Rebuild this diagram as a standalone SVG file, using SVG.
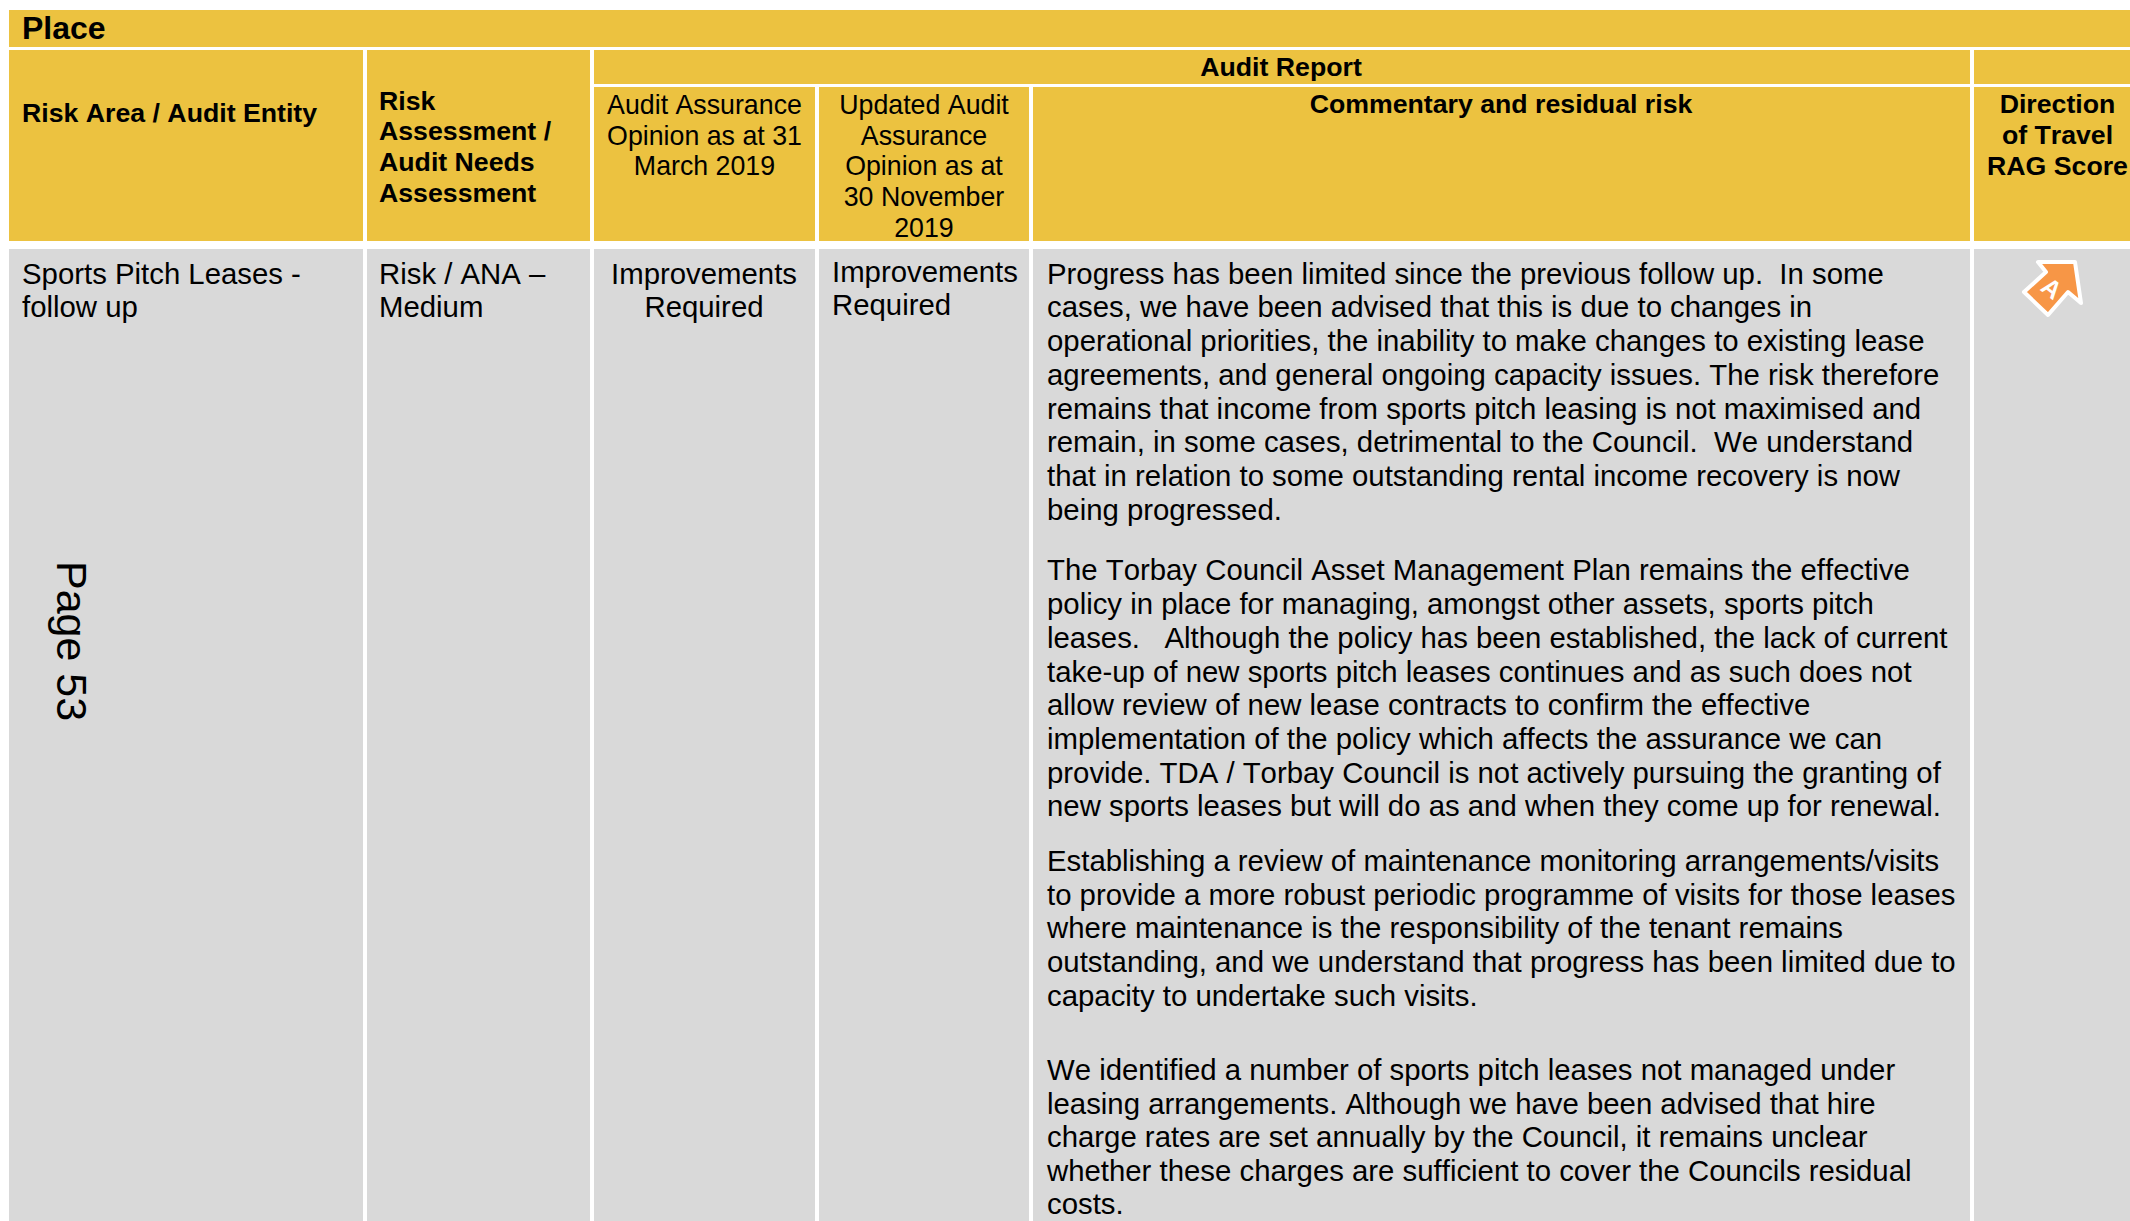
<svg xmlns="http://www.w3.org/2000/svg" width="2130" height="1221" viewBox="0 0 2130 1221">
<style>
text{font-family:"Liberation Sans",Arial,sans-serif;fill:#000;font-kerning:none}
.h{fill:#ECC240}.g{fill:#D9D9D9}
.n{font-size:26.75px}
.hb{font-size:26.7px;font-weight:700}
.t{font-size:29.35px}
.m{text-anchor:middle}
</style>
<rect width="2130" height="1221" fill="#fff"/>
<g id="band"><rect class="h" x="9" y="10" width="2121" height="37"/><text x="22" y="39" font-size="32" font-weight="700">Place</text></g>
<g id="head-risk-area"><rect class="h" x="9" y="50" width="354" height="191"/><text class="hb" x="22" y="122">Risk Area / Audit Entity</text></g>
<g id="head-assessment"><rect class="h" x="367" y="50" width="223" height="191"/>
<text class="hb" x="379" y="110">Risk</text><text class="hb" x="379" y="140">Assessment /</text><text class="hb" x="379" y="171">Audit Needs</text><text class="hb" x="379" y="202">Assessment</text></g>
<g id="head-audit-report"><rect class="h" x="594" y="50" width="1376" height="34"/><text class="hb m" x="1281" y="76">Audit Report</text></g>
<g id="head-blank"><rect class="h" x="1974" y="50" width="156" height="34"/></g>
<g id="head-opinion"><rect class="h" x="594" y="87" width="221" height="154"/>
<text class="n m" x="704.5" y="113.5">Audit Assurance</text><text class="n m" x="704.5" y="144.5">Opinion as at 31</text><text class="n m" x="704.5" y="174.5">March 2019</text></g>
<g id="head-updated"><rect class="h" x="819" y="87" width="210" height="154"/>
<text class="n m" x="924" y="113.5">Updated Audit</text><text class="n m" x="924" y="144.5">Assurance</text><text class="n m" x="924" y="174.5">Opinion as at</text><text class="n m" x="924" y="205.5">30 November</text><text class="n m" x="924" y="236.5">2019</text></g>
<g id="head-commentary"><rect class="h" x="1033" y="87" width="937" height="154"/><text class="hb m" x="1501" y="113">Commentary and residual risk</text></g>
<g id="head-direction"><rect class="h" x="1974" y="87" width="156" height="154"/>
<text class="hb m" x="2057.5" y="113">Direction</text><text class="hb m" x="2057.5" y="144">of Travel</text><text class="hb m" x="2057.5" y="174.5">RAG Score</text></g>

<g id="cell-entity"><rect class="g" x="9" y="249" width="354" height="972"/>
<text class="t" x="22" y="284">Sports Pitch Leases -</text><text class="t" x="22" y="317">follow up</text>
<text font-size="43" transform="translate(57 561) rotate(90)">Page 53</text></g>
<g id="cell-assessment"><rect class="g" x="367" y="249" width="223" height="972"/>
<text class="t" x="379" y="284">Risk / ANA –</text><text class="t" x="379" y="317">Medium</text></g>
<g id="cell-opinion"><rect class="g" x="594" y="249" width="221" height="972"/>
<text class="t m" x="704" y="284">Improvements</text><text class="t m" x="704" y="317">Required</text></g>
<g id="cell-updated"><rect class="g" x="819" y="249" width="210" height="972"/>
<text class="t" x="832" y="281.5">Improvements</text><text class="t" x="832" y="315">Required</text></g>
<g id="cell-commentary"><rect class="g" x="1033" y="249" width="937" height="972"/>
<text class="t" xml:space="preserve" x="1047" y="284">Progress has been limited since the previous follow up.  In some</text>
<text class="t" x="1047" y="317">cases, we have been advised that this is due to changes in</text>
<text class="t" x="1047" y="351">operational priorities, the inability to make changes to existing lease</text>
<text class="t" x="1047" y="385">agreements, and general ongoing capacity issues. The risk therefore</text>
<text class="t" x="1047" y="418.5">remains that income from sports pitch leasing is not maximised and</text>
<text class="t" xml:space="preserve" x="1047" y="452">remain, in some cases, detrimental to the Council.  We understand</text>
<text class="t" x="1047" y="486">that in relation to some outstanding rental income recovery is now</text>
<text class="t" x="1047" y="519.5">being progressed.</text>
<text class="t" x="1047" y="580">The Torbay Council Asset Management Plan remains the effective</text>
<text class="t" x="1047" y="614">policy in place for managing, amongst other assets, sports pitch</text>
<text class="t" xml:space="preserve" x="1047" y="648">leases.   Although the policy has been established, the lack of current</text>
<text class="t" x="1047" y="682">take-up of new sports pitch leases continues and as such does not</text>
<text class="t" x="1047" y="715">allow review of new lease contracts to confirm the effective</text>
<text class="t" x="1047" y="749">implementation of the policy which affects the assurance we can</text>
<text class="t" x="1047" y="783">provide. TDA / Torbay Council is not actively pursuing the granting of</text>
<text class="t" x="1047" y="816">new sports leases but will do as and when they come up for renewal.</text>
<text class="t" x="1047" y="871">Establishing a review of maintenance monitoring arrangements/visits</text>
<text class="t" x="1047" y="905">to provide a more robust periodic programme of visits for those leases</text>
<text class="t" x="1047" y="938">where maintenance is the responsibility of the tenant remains</text>
<text class="t" x="1047" y="972">outstanding, and we understand that progress has been limited due to</text>
<text class="t" x="1047" y="1006">capacity to undertake such visits.</text>
<text class="t" x="1047" y="1080">We identified a number of sports pitch leases not managed under</text>
<text class="t" x="1047" y="1113.5">leasing arrangements. Although we have been advised that hire</text>
<text class="t" x="1047" y="1147">charge rates are set annually by the Council, it remains unclear</text>
<text class="t" x="1047" y="1180.5">whether these charges are sufficient to cover the Councils residual</text>
<text class="t" x="1047" y="1214">costs.</text></g>
<g id="cell-direction"><rect class="g" x="1974" y="249" width="156" height="972"/>
<polygon points="2038,262 2075,262 2081,303 2068,292 2048,315 2024,292 2046,272" fill="#F79646" stroke="#fff" stroke-width="4" stroke-linejoin="round"/>
<text transform="translate(2052 288) rotate(38)" y="9" font-size="25" font-weight="700" text-anchor="middle" style="fill:#fff">A</text></g>
</svg>
